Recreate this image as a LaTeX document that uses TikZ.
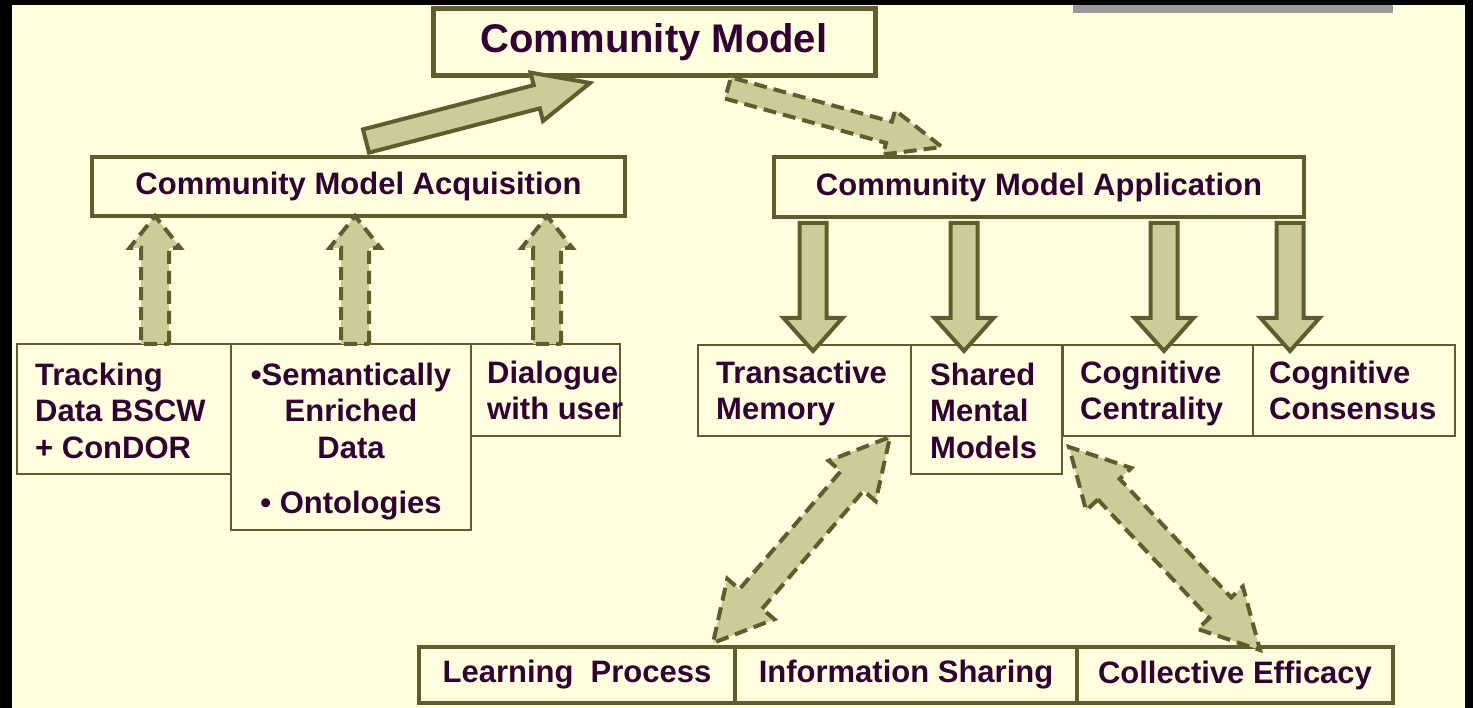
\documentclass[tikz,border=0pt]{standalone}
\usepackage{fontspec}
\setmainfont{Liberation Sans}
\usetikzlibrary{calc}

\definecolor{bgcream}{HTML}{FFFFE0}
\definecolor{olive}{HTML}{5E5E2C}
\definecolor{tanfill}{HTML}{CCCC99}
\definecolor{ink}{HTML}{330033}
\definecolor{bargray}{HTML}{999999}

% Block arrow from #1 to #2: shaft half width #3, head half width #4,
% head length #5 (all in pt), drawn with style #6.
\newcommand\fatarrow[6]{%
  \path let \p1=(#1), \p2=(#2) in \pgfextra{%
    \pgfmathsetmacro\faang{atan2(\y2-\y1,\x2-\x1)}%
    \pgfmathsetmacro\falen{veclen(\x2-\x1,\y2-\y1)}%
    \global\let\faAng\faang \global\let\faLen\falen};
  \pgfmathsetmacro\faBase{\faLen-#5}%
  \begin{scope}[shift={(#1)},rotate=\faAng]
    \draw[#6] (0pt,-#3pt) -- (\faBase pt,-#3pt) -- (\faBase pt,-#4pt)
      -- (\faLen pt,0pt) -- (\faBase pt,#4pt) -- (\faBase pt,#3pt)
      -- (0pt,#3pt) -- cycle;
  \end{scope}}

% Block arrow with a head at both ends.
\newcommand\fatdarrow[6]{%
  \path let \p1=(#1), \p2=(#2) in \pgfextra{%
    \pgfmathsetmacro\faang{atan2(\y2-\y1,\x2-\x1)}%
    \pgfmathsetmacro\falen{veclen(\x2-\x1,\y2-\y1)}%
    \global\let\faAng\faang \global\let\faLen\falen};
  \pgfmathsetmacro\faBase{\faLen-#5}%
  \begin{scope}[shift={(#1)},rotate=\faAng]
    \draw[#6] (#5pt,-#3pt) -- (\faBase pt,-#3pt) -- (\faBase pt,-#4pt)
      -- (\faLen pt,0pt) -- (\faBase pt,#4pt) -- (\faBase pt,#3pt)
      -- (#5pt,#3pt) -- (#5pt,#4pt) -- (0pt,0pt) -- (#5pt,-#4pt) -- cycle;
  \end{scope}}

\tikzset{
  boxbase/.style={draw=olive, fill=bgcream, inner sep=0pt, text=ink,
    font=\bfseries\fontsize{31}{36.5}\selectfont},
  topbox/.style={boxbase, line width=5pt, font=\bfseries\fontsize{40}{46}\selectfont},
  midbox/.style={boxbase, line width=4.5pt},
  rowbox/.style={boxbase, line width=2pt},
  basebox/.style={boxbase, line width=4pt},
  lbl/.style={inner sep=0pt, text=ink, font=\bfseries\fontsize{31}{36.5}\selectfont},
  solidarrow/.style={fill=tanfill, draw=olive, line width=4pt},
  dasharrow/.style={fill=tanfill, draw=olive, line width=4pt,
    dash pattern=on 13pt off 7pt},
}

\begin{document}
\begin{tikzpicture}[x=1pt,y=-1pt]
\useasboundingbox (0,0) rectangle (1473,708);

% frame and page
\fill[black] (0,0) rectangle (1473,708);
\fill[bgcream] (12,5) rectangle (1465,708);
\fill[bargray] (1073,5) rectangle (1393,13);

% top level
\node[topbox, minimum width=442pt, minimum height=67pt] (cm) at (654,42.5) {Community Model};

% second level
\node[midbox, minimum width=533pt, minimum height=59pt] (cma) at (358.5,186.5) {Community Model Acquisition};
\node[midbox, minimum width=530pt, minimum height=60pt] (cmap) at (1039,187) {Community Model Application};

% acquisition sources (labels are placed by the baseline of their last line)
\node[rowbox, minimum width=214pt, minimum height=130pt] (trk) at (124,409) {};
\node[rowbox, minimum width=240pt, minimum height=186pt] (sem) at (351,437) {};
\node[rowbox, minimum width=149pt, minimum height=92pt] (dia) at (545.5,390) {};
\node[lbl, anchor=base west, align=left] (trkt) at (35,458) {Tracking\\Data BSCW\\+ ConDOR};
\node[lbl, anchor=base, align=center] (semt) at (351,513) {•Semantically\\Enriched\\Data\\[18.5pt]• Ontologies};
\node[lbl, anchor=base west, align=left] (diat) at (487,420) {Dialogue\\with user};

% application targets
\node[rowbox, minimum width=213pt, minimum height=91pt] (tm) at (804.5,390.5) {};
\node[rowbox, minimum width=151pt, minimum height=129pt] (smm) at (986.5,409.5) {};
\node[rowbox, minimum width=190pt, minimum height=91pt] (cc) at (1157.5,390.5) {};
\node[rowbox, minimum width=202pt, minimum height=91pt] (cons) at (1354,390.5) {};
\node[lbl, anchor=base west, align=left] (tmt) at (716,420) {Transactive\\Memory};
\node[lbl, anchor=base west, align=left] (smmt) at (930,458) {Shared\\Mental\\Models};
\node[lbl, anchor=base west, align=left] (cct) at (1080,420) {Cognitive\\Centrality};
\node[lbl, anchor=base west, align=left] (const) at (1269,420) {Cognitive\\Consensus};

% outcomes
\node[basebox, minimum width=316pt, minimum height=56pt] (lp) at (577,675) {Learning\ \ Process};
\node[basebox, minimum width=342pt, minimum height=56pt] (is) at (906,675) {Information Sharing};
\node[basebox, minimum width=316pt, minimum height=56pt] (ce) at (1235,675) {Collective Efficacy};

% arrow end points
\coordinate (upA) at (366,141);  \coordinate (upB) at (590,83);
\coordinate (dnA) at (728,88);   \coordinate (dnB) at (942,147);
\coordinate (s1a) at (155,344);  \coordinate (s1b) at (155,216);
\coordinate (s2a) at (355,344);  \coordinate (s2b) at (355,216);
\coordinate (s3a) at (547,344);  \coordinate (s3b) at (547,216);
\coordinate (t1a) at (813,223);  \coordinate (t1b) at (813,351);
\coordinate (t2a) at (964,223);  \coordinate (t2b) at (964,351);
\coordinate (t3a) at (1164,223); \coordinate (t3b) at (1164,351);
\coordinate (t4a) at (1290,223); \coordinate (t4b) at (1290,351);
\coordinate (l1a) at (713,643);  \coordinate (l1b) at (890,437);
\coordinate (r1a) at (1069,447); \coordinate (r1b) at (1260,650);

% acquisition feeds the model, the model drives application
\fatarrow{upA}{upB}{12}{25}{55}{solidarrow}
\fatarrow{dnA}{dnB}{11}{23}{55}{dasharrow}

% sources into acquisition
\fatarrow{s1a}{s1b}{14}{25.5}{32}{dasharrow}
\fatarrow{s2a}{s2b}{14}{25.5}{32}{dasharrow}
\fatarrow{s3a}{s3b}{14}{25.5}{32}{dasharrow}

% application into its targets
\fatarrow{t1a}{t1b}{13.5}{29.5}{33}{solidarrow}
\fatarrow{t2a}{t2b}{13.5}{29.5}{33}{solidarrow}
\fatarrow{t3a}{t3b}{13.5}{29.5}{33}{solidarrow}
\fatarrow{t4a}{t4b}{13.5}{29.5}{33}{solidarrow}

% mutual links with the outcomes
\fatdarrow{l1a}{l1b}{15}{31}{58}{dasharrow}
\fatdarrow{r1a}{r1b}{15}{31}{58}{dasharrow}
\end{tikzpicture}
\end{document}
